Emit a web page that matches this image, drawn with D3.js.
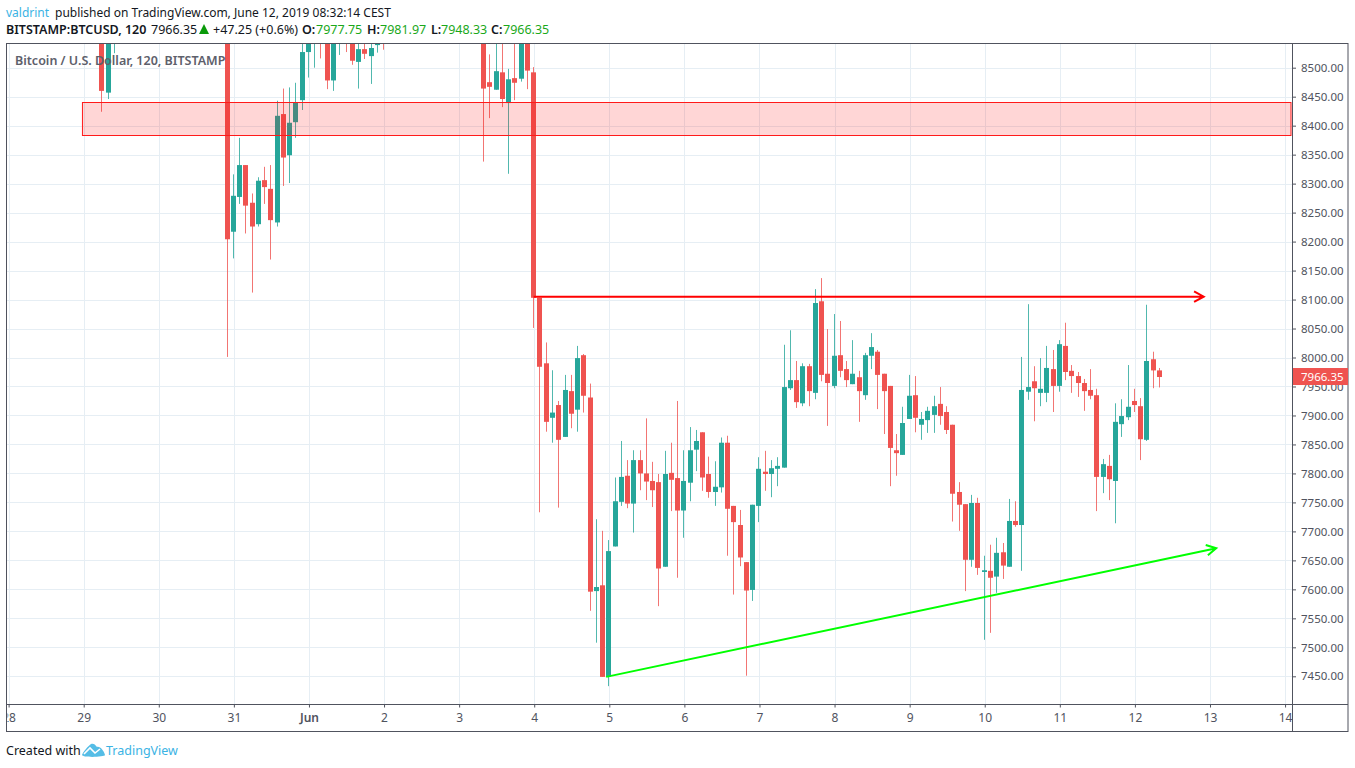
<!DOCTYPE html>
<html>
<head>
<meta charset="utf-8">
<script src="https://cdn.jsdelivr.net/npm/d3@7"></script>
<style>
  html, body { margin: 0; padding: 0; background: #fff; }
  svg { display: block; }
  text { font-family: "Noto Sans", "Open Sans", sans-serif; }
</style>
</head>
<body>
<svg id="chart" width="1355" height="768"></svg>
<script>
// bar number counted in 2h bars from May 29 00:00 (the other bars are above the visible range)
var barIndex = [3, 4, 5].concat(d3.range(23, 49), d3.range(64, 173));

var opens = [
  8600, 8457, 8560,
  8620, 8217, 8277, 8332, 8267, 8230, 8306, 8291, 8233, 8420, 8349, 8406, 8444, 8527,
  8550, 8585, 8590, 8478, 8565, 8590, 8585, 8510, 8532, 8520, 8539, 8570,
  8560, 8475, 8462, 8492, 8439, 8482, 8481, 8555, 8492, 8103, 7990, 7896, 7918, 7863, 7942, 7910, 8004, 7931,
  7597, 7607, 7449, 7674, 7751, 7796, 7748, 7823, 7800, 7787, 7785, 7639, 7801, 7792, 7736, 7784, 7841, 7871,
  7799, 7768, 7776, 7853, 7744, 7711, 7647, 7599, 7744, 7803, 7799, 7808, 7810, 7947, 7961, 7921, 7985, 7939,
  8097, 7972, 7951, 8004, 7980, 7954, 7966, 7935, 8003, 8010, 7972, 7951, 7840, 7832, 7894, 7935, 7884, 7892,
  7901, 7920, 7906, 7884, 7768, 7747, 7651, 7749, 7630, 7632, 7622, 7664, 7639, 7718, 7711, 7941, 7959, 7939,
  7939, 7980, 7951, 8020, 7977, 7968, 7956, 7944, 7935, 7794, 7813, 7787, 7885, 7897, 7925, 7916, 7858, 7997, 7977.75
];
var highs = [
  8620, 8600, 8610,
  8640, 8316, 8379, 8332, 8283, 8311, 8329, 8332, 8443, 8464, 8466, 8474, 8560, 8580,
  8590, 8600, 8600, 8600, 8600, 8600, 8595, 8570, 8560, 8560, 8560, 8580,
  8590, 8523, 8560, 8560, 8498, 8560, 8575, 8570, 8501, 8103, 8026, 7978, 7925, 7970, 7970, 8020, 8006, 7955,
  7721, 7701, 7685, 7793, 7856, 7823, 7840, 7840, 7895, 7820, 7799, 7839, 7853, 7925, 7840, 7880, 7875, 7871,
  7829, 7821, 7862, 7865, 7744, 7737, 7647, 7746, 7828, 7839, 7823, 7828, 8022, 8047, 7994, 7990, 7989, 8118,
  8137, 8049, 8075, 8063, 7994, 8030, 7977, 8008, 8042, 8013, 7972, 7951, 7868, 7915, 7970, 7968, 7906, 7915,
  7934, 7949, 7916, 7884, 7785, 7747, 7763, 7758, 7658, 7677, 7689, 7680, 7756, 7752, 8001, 8092, 7985, 7999,
  8020, 8013, 8030, 8060, 7987, 7975, 7963, 7980, 7946, 7825, 7832, 7921, 7928, 7987, 7946, 7930, 8091, 8010, 7981.97
];
var lows = [
  8424, 8446, 8525,
  8001, 8171, 8265, 8214, 8112, 8226, 8265, 8169, 8226, 8296, 8301, 8379, 8427, 8483,
  8500, 8516, 8463, 8460, 8522, 8527, 8505, 8464, 8515, 8472, 8526, 8531,
  8338, 8413, 8462, 8432, 8317, 8444, 8476, 8463, 8051, 7733, 7872, 7853, 7741, 7863, 7878, 7872, 7905, 7563,
  7508, 7449, 7433, 7674, 7744, 7740, 7698, 7771, 7754, 7742, 7571, 7639, 7735, 7620, 7689, 7752, 7804, 7770,
  7758, 7744, 7767, 7658, 7591, 7640, 7451, 7580, 7716, 7770, 7759, 7778, 7810, 7944, 7913, 7916, 7916, 7928,
  7959, 7882, 7947, 7966, 7949, 7954, 7889, 7927, 7980, 7911, 7868, 7778, 7796, 7832, 7894, 7871, 7858, 7870,
  7870, 7884, 7868, 7717, 7701, 7597, 7639, 7625, 7513, 7525, 7594, 7618, 7639, 7708, 7632, 7927, 7890, 7916,
  7923, 7906, 7941, 7961, 7939, 7932, 7908, 7928, 7735, 7766, 7754, 7714, 7863, 7892, 7906, 7823, 7856, 7947, 7948.33
];
var closes = [
  8460, 8590, 8600,
  8204, 8279, 8332, 8262, 8226, 8305, 8294, 8237, 8417, 8345, 8405, 8440, 8527, 8565,
  8575, 8555, 8478, 8590, 8590, 8560, 8512, 8532, 8524, 8534, 8541, 8550,
  8464, 8467, 8494, 8446, 8480, 8474, 8560, 8495, 8103, 7984, 7889, 7905, 7858, 7944, 7903, 7999, 7934, 7596,
  7604, 7449, 7666, 7752, 7794, 7748, 7823, 7800, 7786, 7771, 7636, 7799, 7789, 7736, 7787, 7840, 7856, 7793,
  7768, 7777, 7853, 7739, 7716, 7655, 7598, 7746, 7808, 7799, 7809, 7813, 7949, 7961, 7923, 7985, 7942, 8094,
  7970, 7956, 8003, 7977, 7961, 7972, 7942, 8004, 8018, 7970, 7942, 7844, 7835, 7887, 7934, 7896, 7894, 7908,
  7916, 7899, 7875, 7765, 7746, 7651, 7749, 7637, 7633, 7620, 7663, 7641, 7718, 7711, 7944, 7949, 7947, 7946,
  7982, 7951, 8023, 7975, 7968, 7956, 7942, 7934, 7794, 7816, 7790, 7889, 7899, 7915, 7918, 7859, 7994, 7977.75, 7966.35
];

var dayLabels = ["28", "29", "30", "31", "Jun", "2", "3", "4", "5", "6", "7", "8", "9", "10", "11", "12", "13", "14"];
var dayBars = dayLabels.map(function (d, i) { return (i - 1) * 12; });
var priceTicks = d3.range(7450, 8550, 50);

// drawings on the chart: [bar, price]
var resistanceZone = { bars: [-0.2], top: 8440, bottom: 8384 };
var redLine = [[71.9, 8105], [179, 8105]];
var greenLine = [[83.5, 7449], [181, 7671]];
var lastPrice = 7966.35;

var svg = d3.select("#chart");

var plotRight = 1292, plotBottom = 704.5, plotTop = 43.5, plotLeft = 6.5, boxRight = 1348, boxBottom = 731.5;

var x = d3.scaleLinear().domain([0, 168]).range([83.7, 1134.9]);
var y = d3.scaleLinear().domain([7450, 8500]).range([676.3, 67.7]);

var defs = svg.append("defs");
defs.append("clipPath").attr("id", "plotClip").append("rect")
    .attr("x", plotLeft).attr("y", plotTop).attr("width", plotRight - plotLeft).attr("height", plotBottom - plotTop);
defs.append("clipPath").attr("id", "timeClip").append("rect")
    .attr("x", plotLeft + 1).attr("y", plotBottom).attr("width", plotRight - plotLeft).attr("height", boxBottom - plotBottom);

var plot = svg.append("g").attr("clip-path", "url(#plotClip)");

// grid
plot.append("g").selectAll("line").data(priceTicks).enter().append("line")
    .attr("x1", plotLeft).attr("x2", plotRight)
    .attr("y1", function (d) { return Math.round(y(d)) + 0.5; })
    .attr("y2", function (d) { return Math.round(y(d)) + 0.5; })
    .attr("stroke", "#e6eef4");
plot.append("g").selectAll("line").data(dayBars).enter().append("line")
    .attr("x1", function (d) { return Math.round(x(d)) + 0.5; })
    .attr("x2", function (d) { return Math.round(x(d)) + 0.5; })
    .attr("y1", plotTop).attr("y2", plotBottom)
    .attr("stroke", "#e6eef4");

// candles
var upColor = "#26a69a", downColor = "#ef5350";
function barColor(i) { return closes[i] >= opens[i] ? upColor : downColor; }
function barX(i) { return Math.floor(x(barIndex[i]) - 0.5) + 0.5; }

var candles = plot.append("g").selectAll("g").data(barIndex).enter().append("g");
candles.append("line")
    .attr("x1", function (d, i) { return barX(i); })
    .attr("x2", function (d, i) { return barX(i); })
    .attr("y1", function (d, i) { return y(highs[i]); })
    .attr("y2", function (d, i) { return y(lows[i]); })
    .attr("stroke", function (d, i) { return barColor(i); })
    .attr("stroke-opacity", 0.8);
candles.append("rect")
    .attr("x", function (d, i) { return barX(i) - 2.5; })
    .attr("width", 5)
    .attr("y", function (d, i) { return y(Math.max(opens[i], closes[i])); })
    .attr("height", function (d, i) { return Math.max(1, Math.abs(y(opens[i]) - y(closes[i]))); })
    .attr("fill", function (d, i) { return barColor(i); });

// zone
plot.append("rect")
    .attr("x", x(resistanceZone.bars[0]))
    .attr("width", plotRight - 1 - x(resistanceZone.bars[0]))
    .attr("y", Math.round(y(resistanceZone.top)) + 0.5)
    .attr("height", Math.round(y(resistanceZone.bottom)) - Math.round(y(resistanceZone.top)))
    .attr("fill", "#ff0000").attr("fill-opacity", 0.16)
    .attr("stroke", "#ff1a1a").attr("stroke-width", 1);

// trend arrows
function drawArrow(points, color) {
    var x1 = x(points[0][0]), y1 = y(points[0][1]), x2 = x(points[1][0]), y2 = y(points[1][1]);
    var a = Math.atan2(y2 - y1, x2 - x1), len = 11, spread = 0.5;
    plot.append("path")
        .attr("d", "M" + x1 + "," + y1 + "L" + x2 + "," + y2 +
            "M" + (x2 - len * Math.cos(a - spread)) + "," + (y2 - len * Math.sin(a - spread)) +
            "L" + x2 + "," + y2 +
            "L" + (x2 - len * Math.cos(a + spread)) + "," + (y2 - len * Math.sin(a + spread)))
        .attr("fill", "none").attr("stroke", color).attr("stroke-width", 2);
}
drawArrow(redLine, "#ff0000");
drawArrow(greenLine, "#00ff00");

// watermark title
plot.append("text").attr("x", 15).attr("y", 65)
    .attr("font-size", 12.5).attr("font-weight", 600).attr("fill", "#5d606b")
    .text("Bitcoin / U.S. Dollar, 120, BITSTAMP");

// axes
var axisColor = "#50535e";
var priceAxis = svg.append("g").attr("transform", "translate(" + plotRight + ",0)")
    .call(d3.axisRight(y).tickValues(priceTicks).tickFormat(d3.format(".2f")).tickSize(4).tickPadding(5));
priceAxis.select(".domain").remove();
priceAxis.selectAll("line").attr("stroke", axisColor);
priceAxis.selectAll("text").attr("font-size", 11.5).attr("fill", "#50535e").attr("font-family", '"Noto Sans"');

var timeAxis = svg.append("g").attr("clip-path", "url(#timeClip)")
  .append("g").attr("transform", "translate(0," + plotBottom + ")")
    .call(d3.axisBottom(x).tickValues(dayBars).tickFormat(function (d, i) { return dayLabels[i]; }).tickSize(3).tickPadding(6));
timeAxis.select(".domain").remove();
timeAxis.selectAll("line").attr("stroke", axisColor);
timeAxis.selectAll("text").attr("font-size", 12).attr("fill", "#50535e").attr("font-family", '"Noto Sans"')
    .attr("font-weight", function (d, i) { return dayLabels[i] === "Jun" ? 600 : 400; });

// frame
svg.append("rect").attr("x", plotLeft).attr("y", plotTop)
    .attr("width", boxRight - plotLeft).attr("height", boxBottom - plotTop)
    .attr("fill", "none").attr("stroke", axisColor);
svg.append("line").attr("x1", plotRight + 0.5).attr("x2", plotRight + 0.5).attr("y1", plotTop).attr("y2", boxBottom).attr("stroke", axisColor);
svg.append("line").attr("x1", plotLeft).attr("x2", boxRight).attr("y1", plotBottom).attr("y2", plotBottom).attr("stroke", axisColor);

// last price label
svg.append("rect").attr("x", plotRight + 1).attr("y", y(lastPrice) - 9).attr("width", boxRight - plotRight - 1).attr("height", 17)
    .attr("fill", downColor);
svg.append("text").attr("x", plotRight + 9).attr("y", y(lastPrice) + 4)
    .attr("font-size", 11.5).attr("fill", "#fff").text(d3.format(".2f")(lastPrice));

// header lines
var ink = "#131722", blue = "#3bb3e4", green = "#1ba81b";
function label(px, py, str, color, weight, size) {
    svg.append("text").attr("x", px).attr("y", py).attr("font-size", size || 12.5)
        .attr("fill", color).attr("font-weight", weight || 400).text(str);
}
label(6, 17, "valdrint", blue, 400, 12);
label(55, 17, "published on TradingView.com, June 12, 2019 08:32:14 CEST", ink, 400, 12);
label(6, 34, "BITSTAMP:BTCUSD, 120", ink, 600);
label(151, 34, "7966.35", ink);
svg.append("path").attr("d", "M199,34L204,24L209,34Z").attr("fill", "#0a9a0a");
label(213, 34, "+47.25 (+0.6%)", ink);
label(302, 34, "O:", ink, 600);
label(316, 34, "7977.75", green);
label(367, 34, "H:", ink, 600);
label(380, 34, "7981.97", green);
label(431, 34, "L:", ink, 600);
label(441, 34, "7948.33", green);
label(491, 34, "C:", ink, 600);
label(503, 34, "7966.35", green);

// footer
label(6, 755, "Created with", ink);
svg.append("path")
    .attr("d", "M82,755C83,752 88,746 91,744C93,743 95,744 97,747C100,746 104,751 105,755C105,757 83,758 82,755Z")
    .attr("fill", "#55bde6");
svg.append("path").attr("d", "M84,754L90,748L95,753L100,749")
    .attr("fill", "none").attr("stroke", "#fff").attr("stroke-width", 1.6);
label(106, 755, "TradingView", blue);
</script>
</body>
</html>
